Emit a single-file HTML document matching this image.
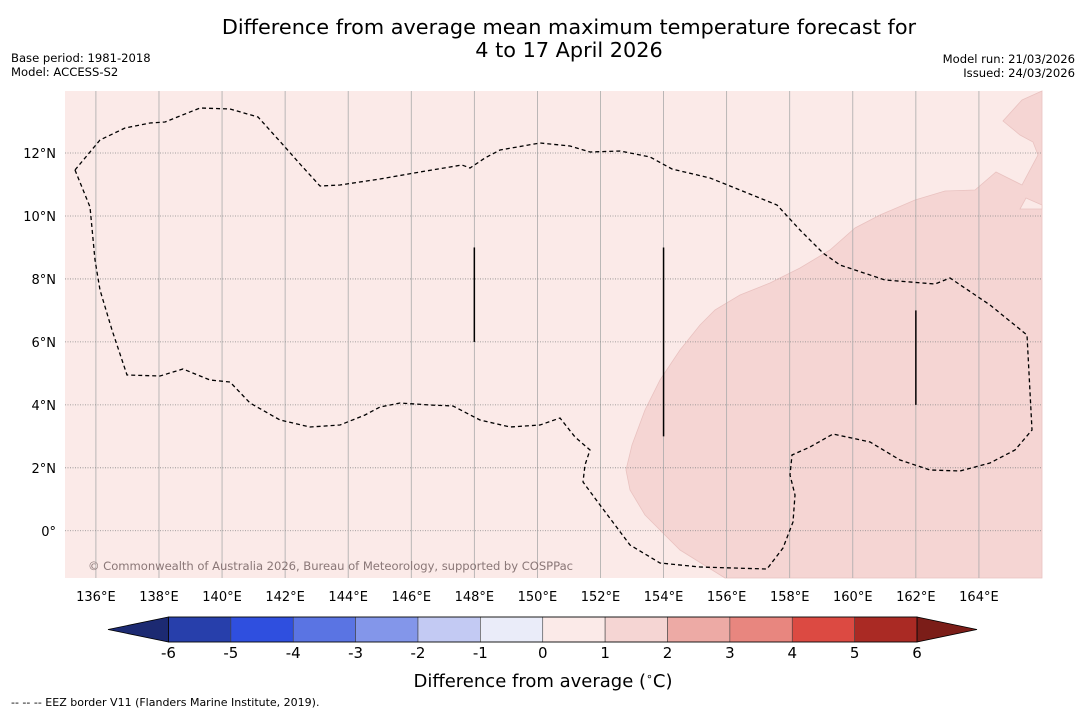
<!DOCTYPE html>
<html><head><meta charset="utf-8"><style>
html,body{margin:0;padding:0;background:#fff;width:1085px;height:713px;overflow:hidden;font-family:"DejaVu Sans","Liberation Sans",sans-serif}
svg text{font-family:"DejaVu Sans","Liberation Sans",sans-serif}
</style></head><body>
<svg id="chart" width="1085" height="713" viewBox="0 0 1085 713" xmlns="http://www.w3.org/2000/svg">
<text x="569" y="34" font-size="20.8" text-anchor="middle">Difference from average mean maximum temperature forecast for</text>
<text x="569" y="57" font-size="20.8" text-anchor="middle">4 to 17 April 2026</text>
<text x="11" y="62" font-size="11.6">Base period: 1981-2018</text>
<text x="11" y="76" font-size="11.6">Model: ACCESS-S2</text>
<text x="1075" y="63" font-size="11.6" text-anchor="end">Model run: 21/03/2026</text>
<text x="1075" y="77" font-size="11.6" text-anchor="end">Issued: 24/03/2026</text>
<g id="map"></g>
<g id="cbar"></g>
<text x="543" y="687" font-size="18" text-anchor="middle">Difference from average (<tspan font-size="11" dy="-7">∘</tspan><tspan dy="7">C)</tspan></text>
<text x="11" y="706" font-size="11">--  --  -- EEZ border V11 (Flanders Marine Institute, 2019).</text>
</svg>
<script>
const lonTicks=[136,138,140,142,144,146,148,150,152,154,156,158,160,162,164];
const latTicks=[0,2,4,6,8,10,12];
const cbarLevels=[-6,-5,-4,-3,-2,-1,0,1,2,3,4,5,6];
const cbarColors=["#273fab","#2f4fdf","#5a74e3","#8396ea","#c3caf3","#eaecf9","#fbeae8","#f5d5d3","#edaaa5","#e8867f","#dc4a42","#aa2a24"];
const eezPx=[[75,170],[90,207],[95,260],[100,290],[112,330],[127,375],[160,376],[183,369],[210,380],[230,382],[250,403],[280,420],[310,427],[340,425],[365,415],[380,407],[400,403],[430,405],[453,406],[480,420],[510,427],[540,425],[560,418],[575,437],[590,450],[585,465],[583,482],[600,505],[630,545],[660,563],[700,567],[767,569],[783,548],[793,522],[795,495],[790,475],[792,455],[810,447],[833,434],[870,442],[900,460],[930,470],[960,471],[990,463],[1015,450],[1032,430],[1027,335],[990,305],[950,278],[935,284],[885,280],[840,265],[823,253],[800,230],[777,205],[740,190],[710,178],[672,169],[650,157],[620,151],[590,152],[570,146],[540,143],[500,150],[485,158],[470,168],[462,165],[420,172],[380,179],[340,185],[320,186],[300,164],[285,147],[258,117],[230,109],[200,108],[165,122],[150,123],[125,128],[100,140],[75,170]];
const warmPx=[[725,578],[680,550],[645,515],[630,490],[626,470],[632,445],[645,410],[660,380],[680,350],[700,325],[715,310],[740,295],[770,283],[800,268],[830,250],[855,228],[880,215],[915,200],[945,191],[975,190],[996,172],[1022,185],[1038,155],[1033,142],[1020,135],[1003,121],[1022,100],[1042,91],[1042,578]];
const notchPx=[[1020,209],[1026,198],[1042,205],[1042,209]];
const vbars=[[148,6,9],[154,3,9],[162,4,7]];
const NS="http://www.w3.org/2000/svg";
const X0=65,X1=1042,Y0=91,Y1=578;
const lonMin=135.02,lonMax=166,latMin=-1.5,latMax=13.97;
const xs=l=>X0+(l-lonMin)/(lonMax-lonMin)*(X1-X0);
const ys=l=>Y1-(l-latMin)/(latMax-latMin)*(Y1-Y0);
const toLon=x=>lonMin+(x-X0)/(X1-X0)*(lonMax-lonMin);
const toLat=y=>latMin+(Y1-y)/(Y1-Y0)*(latMax-latMin);
const eez=eezPx.map(p=>[toLon(p[0]),toLat(p[1])]);
const warm=warmPx.map(p=>[toLon(p[0]),toLat(p[1])]);
const notch=notchPx.map(p=>[toLon(p[0]),toLat(p[1])]);
function mk(t,a,parent){const e=document.createElementNS(NS,t);for(const k in a)e.setAttribute(k,a[k]);parent.appendChild(e);return e;}
const pts=arr=>arr.map(p=>xs(p[0]).toFixed(1)+","+ys(p[1]).toFixed(1)).join(" ");
const map=document.getElementById('map');
let bg=mk('rect',{x:X0,y:Y0,width:X1-X0,height:Y1-Y0,fill:"#fbeae8"},map);


let w=mk('polygon',{points:pts(warm),fill:"#f5d5d3",stroke:"#e9c2c0","stroke-width":0.8},map);


let n=mk('polygon',{points:pts(notch),fill:"#fbeae8",stroke:"#e9c2c0","stroke-width":0.8},map);


lonTicks.forEach(l=>{
 let g=mk('line',{x1:xs(l),x2:xs(l),y1:Y0,y2:Y1,stroke:"#aaa","stroke-width":0.8},map);
 
 
 let t=mk('text',{x:xs(l),y:601,"font-size":13,"text-anchor":"middle"},map);t.textContent=l+"°E";
 
 
});
latTicks.forEach(l=>{
 let g=mk('line',{x1:X0,x2:X1,y1:ys(l),y2:ys(l),stroke:"#888","stroke-width":0.8,"stroke-dasharray":"1,1.5"},map);
 
 
 let t=mk('text',{x:56,y:ys(l)+5,"font-size":13,"text-anchor":"end"},map);t.textContent=l===0?"0°":l+"°N";
 
 
});
let e=mk('polyline',{points:pts(eez),fill:"none",stroke:"#000","stroke-width":1.3,"stroke-dasharray":"4,3"},map);


vbars.forEach(v=>{
 let b=mk('line',{x1:xs(v[0]),x2:xs(v[0]),y1:ys(v[2]),y2:ys(v[1]),stroke:"#000","stroke-width":1.5},map);
 
 
});
let c=mk('text',{x:88,y:570,"font-size":11.6,fill:"#8a7777",textLength:485},map);c.textContent="© Commonwealth of Australia 2026, Bureau of Meteorology, supported by COSPPac";


const cb=document.getElementById('cbar');
const CX0=168.5,CX1=917,CY0=617,CY1=642;
const cx=v=>CX0+(v-cbarLevels[0])/(cbarLevels[cbarLevels.length-1]-cbarLevels[0])*(CX1-CX0);
let lt=mk('polygon',{points:`${CX0},${CY0} ${CX0},${CY1} 108,${(CY0+CY1)/2}`,fill:"#1c2a72",stroke:"#000","stroke-width":0.8},cb);


let rt=mk('polygon',{points:`${CX1},${CY0} ${CX1},${CY1} 977,${(CY0+CY1)/2}`,fill:"#7b1d18",stroke:"#000","stroke-width":0.8},cb);


cbarColors.forEach((col,i)=>{
 let r=mk('rect',{x:cx(cbarLevels[i]),y:CY0,width:cx(cbarLevels[i+1])-cx(cbarLevels[i]),height:CY1-CY0,fill:col,stroke:"#444","stroke-width":0.6},cb);
 
 
});
mk('rect',{x:CX0,y:CY0,width:CX1-CX0,height:CY1-CY0,fill:"none",stroke:"#000","stroke-width":0.8},cb);
cbarLevels.forEach(v=>{
 let t=mk('text',{x:cx(v),y:658,"font-size":15,"text-anchor":"middle"},cb);t.textContent=v;
 
 
});
</script>
</body></html>
